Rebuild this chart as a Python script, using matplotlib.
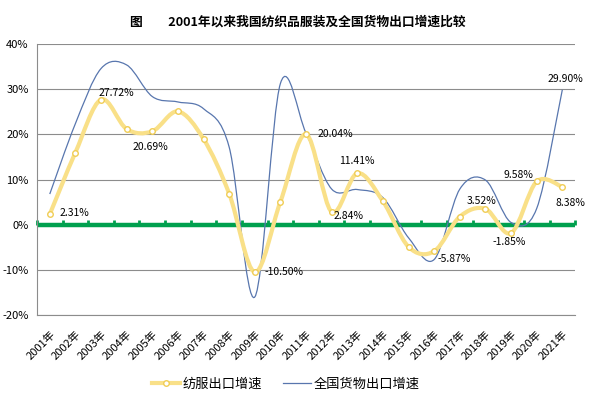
import matplotlib
matplotlib.use("Agg")
import matplotlib.pyplot as plt
import numpy as np
from matplotlib.path import Path
from matplotlib.patches import PathPatch

plt.rcParams['font.family'] = ['Noto Sans CJK SC', 'DejaVu Sans']

years = [f"{y}年" for y in range(2001, 2022)]
textile = [2.31, 16.0, 27.72, 21.2, 20.69, 25.1, 19.0, 6.9, -10.50, 5.1, 20.04,
           2.84, 11.41, 5.2, -4.9, -5.87, 1.8, 3.52, -1.85, 9.58, 8.38]
national = [6.8, 22.4, 34.6, 35.4, 28.4, 27.2, 25.7, 17.2, -16.0, 31.3, 20.3,
            7.9, 7.8, 6.0, -2.9, -7.7, 7.9, 9.9, 0.5, 3.6, 29.90]

# labels: (index, dx, dy) in pixels
textile_labels = [(0, 25, 1), (2, 15, 7), (4, -2, -16), (8, 29, 0), (10, 29, 0),
                  (11, 17, -4), (12, 0, 12), (15, 20, -8), (17, -4, 8),
                  (18, -2, -9), (19, -18, 6), (20, 8, -16)]
national_labels = [(20, 3, 11)]

YELLOW = "#F9E088"
YEDGE = "#F0CD55"
BLUE = "#5876AE"
GREEN = "#00A04E"


def smooth_path(x, y):
    # excel-like smoothed line: cubic bezier with catmull-rom control points
    x = np.asarray(x, float)
    y = np.asarray(y, float)
    pts = np.column_stack([x, y])
    n = len(pts)
    verts = [pts[0]]
    codes = [Path.MOVETO]
    for i in range(n - 1):
        p0 = pts[max(i - 1, 0)]
        p1 = pts[i]
        p2 = pts[i + 1]
        p3 = pts[min(i + 2, n - 1)]
        c1 = p1 + (p2 - p0) / 6.0
        c2 = p2 - (p3 - p1) / 6.0
        verts += [c1, c2, p2]
        codes += [Path.CURVE4] * 3
    return Path(verts, codes)


fig = plt.figure(figsize=(5.96, 3.98), dpi=100)
ax = fig.add_axes([0.062, 0.2085, 0.903, 0.6805])

x = np.arange(len(years))

ax.set_ylim(-20, 40)
ax.set_xlim(-0.5, len(years) - 0.5)
ax.set_yticks(np.arange(-20, 41, 10))
ax.set_yticklabels([f"{v}%" for v in range(-20, 41, 10)], fontsize=8)
ax.yaxis.grid(True, color="#8c8c8c", lw=0.8)
ax.set_axisbelow(True)
for s in ["top", "right"]:
    ax.spines[s].set_visible(False)
ax.spines["left"].set_color("#8c8c8c")
ax.spines["bottom"].set_color("#8c8c8c")
ax.tick_params(axis="y", length=0, pad=6)

ax.set_xticks(x)
ax.set_xticklabels(years, rotation=45, ha="right", rotation_mode="anchor", fontsize=8)
ax.tick_params(axis="x", length=0, pad=10)

# zero axis line with category ticks
ax.axhline(0, color=GREEN, lw=3.2, zorder=2)
bounds = np.arange(len(years) + 1) - 0.5
ax.plot(bounds, np.zeros_like(bounds), ls="none", marker=2, ms=3.5, mew=2,
        color=GREEN, zorder=2, clip_on=False)

# national series
ax.add_patch(PathPatch(smooth_path(x, national), fill=False, edgecolor=BLUE,
                       lw=0.9, zorder=3))

# textile series
ax.add_patch(PathPatch(smooth_path(x, textile), fill=False, edgecolor=YELLOW,
                       lw=3.0, zorder=4, capstyle="round", joinstyle="round"))
ax.plot(x, textile, ls="none", marker="o", ms=4, mfc="white", mec=YEDGE,
        mew=1.0, zorder=5)

for i, dx, dy in textile_labels:
    ax.annotate(f"{textile[i]:.2f}%", (x[i], textile[i]), xytext=(dx, dy),
                textcoords="offset pixels", ha="center", va="center",
                fontsize=7.5, zorder=6)
for i, dx, dy in national_labels:
    ax.annotate(f"{national[i]:.2f}%", (x[i], national[i]), xytext=(dx, dy),
                textcoords="offset pixels", ha="center", va="center",
                fontsize=7.5, zorder=6)

fig.text(0.5, 0.945, "图　　2001年以来我国纺织品服装及全国货物出口增速比较",
         ha="center", va="center", fontsize=9.2, fontweight="bold")

h1, = ax.plot([], [], color=YELLOW, lw=3, marker="o", ms=4, mfc="white", mec=YEDGE)
h2, = ax.plot([], [], color=BLUE, lw=0.9)
fig.legend([h1, h2], ["纺服出口增速", "全国货物出口增速"], loc="center",
           bbox_to_anchor=(0.48, 0.035), ncol=2, frameon=False, fontsize=9.5,
           handlelength=2.1, columnspacing=1.6, handletextpad=0.2)

fig.savefig("out.png", dpi=100)
